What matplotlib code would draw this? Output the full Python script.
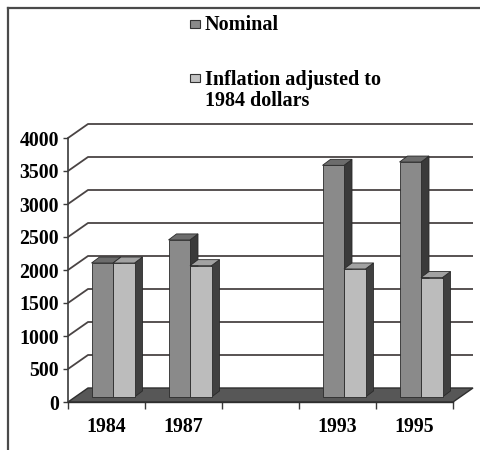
import matplotlib
matplotlib.use('Agg')
import matplotlib.pyplot as plt
from matplotlib.patches import Polygon, Rectangle
from matplotlib.lines import Line2D
import numpy as np

# ---- data ----
categories = ['1984', '1987', '', '1993', '1995']
nominal = [2030, 2380, np.nan, 3510, 3560]
inflation = [2030, 1990, np.nan, 1940, 1810]
yticks = [0, 500, 1000, 1500, 2000, 2500, 3000, 3500, 4000]
legend_labels = ['Nominal', 'Inflation adjusted to\n1984 dollars']

plt.rcParams['font.family'] = ['Liberation Serif', 'DejaVu Serif']
plt.rcParams['font.weight'] = 'bold'

W, H = 481, 450
fig = plt.figure(figsize=(W / 100, H / 100), dpi=100)
ax = fig.add_axes([0, 0, 1, 1])

# pixel geometry of the pseudo-3D frame
X0, UX = 68, 77.0      # px of front y-axis, px per category slot
Y0, UY = 402, 0.066    # px of value 0, px per value unit
ax.set_xlim(-X0 / UX, (W - X0) / UX)
ax.set_ylim(-(H - Y0) / UY, Y0 / UY)
ax.patch.set_visible(False)

def pdx(p):
    return p / UX

def pdy(p):
    return p / UY

n = len(categories)
DX, DY = pdx(20), pdy(14)          # wall / floor depth
BW = pdx(21.5)                      # bar width
FX, FY = pdx(6.5), pdy(5)           # bar front-face depth shift
BDX, BDY = pdx(8), pdy(6)           # bar depth

grid_col = '#4a4444'
edge_col = '#2a2a2a'

# floor
floor = Polygon([(0, 0), (n, 0), (n + DX, DY), (DX, DY)], closed=True,
                facecolor='#575757', edgecolor='#2e2e2e', lw=1.0, zorder=2)
ax.add_patch(floor)

# gridlines (left wall diagonal + back wall)
for v in yticks[1:]:
    ax.plot([0, DX, n + DX], [v, v + DY, v + DY], color=grid_col, lw=1.3,
            zorder=1, solid_capstyle='butt')

centers = np.arange(n) + 0.5

def draw_series(vals, left, front_c, top_c, side_c, z):
    vals = np.asarray(vals, dtype=float)
    ok = ~np.isnan(vals)
    for xl, v in zip(left[ok], vals[ok]):
        xr = xl + BW
        top = FY + v
        side = Polygon([(xr, FY), (xr + BDX, FY + BDY), (xr + BDX, top + BDY), (xr, top)],
                       closed=True, facecolor=side_c, edgecolor=edge_col, lw=0.6, zorder=z)
        topf = Polygon([(xl, top), (xr, top), (xr + BDX, top + BDY), (xl + BDX, top + BDY)],
                       closed=True, facecolor=top_c, edgecolor=edge_col, lw=0.6, zorder=z + 0.01)
        ax.add_patch(side)
        ax.add_patch(topf)
    ax.bar(left[ok], vals[ok], width=BW, bottom=FY, align='edge',
           color=front_c, edgecolor=edge_col, lw=0.6, zorder=z + 0.02)

left_nom = centers + FX - BW
left_inf = centers + FX
draw_series(nominal, left_nom, '#8a8a8a', '#6c6c6c', '#3a3a3a', 3.0)
draw_series(inflation, left_inf, '#bcbcbc', '#a2a2a2', '#404040', 3.1)

# axes / ticks
for s in ['top', 'right']:
    ax.spines[s].set_visible(False)
ax.spines['left'].set_position(('data', 0))
ax.spines['left'].set_bounds(0, yticks[-1])
ax.spines['left'].set_color('#3a3a3a')
ax.spines['left'].set_linewidth(1.2)
ax.spines['bottom'].set_position(('data', 0))
ax.spines['bottom'].set_bounds(0, n)
ax.spines['bottom'].set_color('#2e2e2e')
ax.spines['bottom'].set_linewidth(1.0)

ax.set_yticks(yticks)
ax.set_yticklabels([str(t) for t in yticks])
ax.tick_params(axis='y', direction='out', length=3.6, width=1.0, pad=3,
               labelsize=14.3, color='#3a3a3a')

ax.set_xticks(np.arange(n + 1))
ax.set_xticklabels([''] * (n + 1))
ax.tick_params(axis='x', which='major', direction='out', length=5, width=1.0,
               color='#3a3a3a')
ax.set_xticks(centers, minor=True)
ax.set_xticklabels(categories, minor=True)
ax.tick_params(axis='x', which='minor', length=0, pad=10.5, labelsize=14.3)

# frame lines
fig.add_artist(Line2D([8 / W, 8 / W], [1 - 8 / H, 0], transform=fig.transFigure,
                      color='#4a4a4a', lw=1.6))
fig.add_artist(Line2D([8 / W, 1], [1 - 8 / H, 1 - 8 / H], transform=fig.transFigure,
                      color='#4a4a4a', lw=1.6))

# legend (manual)
leg_cols = ['#8a8a8a', '#c2c2c2']
leg_sq_y = [20, 74]
leg_text_y = [30, 85]
line_gap = 21.5
for lab, c, sy, ty in zip(legend_labels, leg_cols, leg_sq_y, leg_text_y):
    fig.patches.append(Rectangle((190 / W, 1 - (sy + 8) / H), 10 / W, 8 / H,
                                 transform=fig.transFigure, facecolor=c,
                                 edgecolor='#333333', lw=0.8))
    for k, line in enumerate(lab.split('\n')):
        fig.text(205 / W, 1 - (ty + k * line_gap) / H, line, ha='left',
                 va='baseline', fontsize=14.5)

fig.savefig('out.png', dpi=100)
